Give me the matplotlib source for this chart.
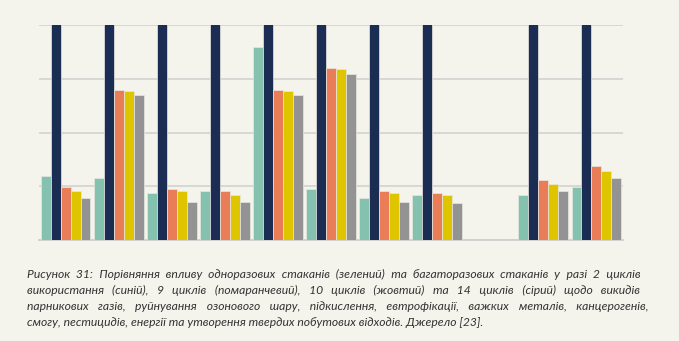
import numpy as np
import matplotlib.pyplot as plt

# значення (шкала 0..4, синій виходить за межі)
groups = np.arange(11)
single_use = [1.19, 1.15, 0.87, 0.91, 3.59, 0.95, 0.79, 0.83, np.nan, 0.83, 0.99]
reuse_2 = [5, 5, 5, 5, 5, 5, 5, 5, np.nan, 5, 5]
reuse_9 = [0.99, 2.80, 0.95, 0.91, 2.80, 3.20, 0.91, 0.87, np.nan, 1.11, 1.37]
reuse_10 = [0.91, 2.77, 0.91, 0.83, 2.77, 3.18, 0.87, 0.83, np.nan, 1.04, 1.29]
reuse_14 = [0.79, 2.69, 0.71, 0.71, 2.69, 3.08, 0.71, 0.68, np.nan, 0.91, 1.15]

series = [single_use, reuse_2, reuse_9, reuse_10, reuse_14]
colors = ['#84C1AE', '#1C2D54', '#E97D57', '#DFC400', '#939393']

caption_lines = [
    "Рисунок 31: Порівняння впливу одноразових стаканів (зелений) та багаторазових стаканів у разі 2 циклів",
    "використання (синій), 9 циклів (помаранчевий), 10 циклів (жовтий) та 14 циклів (сірий) щодо викидів",
    "парникових газів, руйнування озонового шару, підкислення, евтрофікації, важких металів, канцерогенів,",
    "смогу, пестицидів, енергії та утворення твердих побутових відходів. Джерело [23].",
]

bg = '#F4F3EC'
fig = plt.figure(figsize=(6.79, 3.41), dpi=100, facecolor=bg)
ax = fig.add_axes([39 / 679, 1 - 240 / 341, 584 / 679, 215 / 341])
ax.set_facecolor(bg)

w = 0.188
for i, (vals, c) in enumerate(zip(series, colors)):
    x = groups + (i - 2) * w
    ax.bar(x, vals, width=w, color=c, edgecolor='#E8E8E2', linewidth=0.5, zorder=3)

ax.set_xlim(-0.5, 10.5)
ax.set_ylim(0, 4)
ax.set_yticks([0, 1, 2, 3, 4])
ax.grid(axis='y', color='#CFCFCF', linewidth=1.1, zorder=0)
ax.tick_params(left=False, bottom=False, labelleft=False, labelbottom=False)
ax.set_xticks([])
for s in ['top', 'right', 'left']:
    ax.spines[s].set_visible(False)
ax.spines['bottom'].set_color('#CFCFCF')
ax.spines['bottom'].set_linewidth(1.3)

# підпис, вирівняний по ширині (додаткові пробіли + тонкі пробіли)
fs = 8.75
fam = ['Lato', 'DejaVu Sans']
x0 = 26.7
right_edges = [640, 640, 648, None]
ys = [278.3, 294.1, 309.9, 325.7]
renderer = fig.canvas.get_renderer()


def text_w(s):
    t = fig.text(0, 0, s, fontsize=fs, family=fam, style='italic')
    wd = t.get_window_extent(renderer).width
    t.remove()
    return wd


SP = ' '
HS = '\u200a'
sp_w = (text_w('a' + SP * 20 + 'a') - text_w('aa')) / 20
hs_w = (text_w('a' + HS * 20 + 'a') - text_w('aa')) / 20

for k, line in enumerate(caption_lines):
    y = 1 - ys[k] / 341
    s = line
    if right_edges[k] is not None:
        words = line.split(' ')
        extra = right_edges[k] - x0 - text_w(line)
        per_gap = extra / (len(words) - 1)
        s = words[0]
        done = 0.0
        for i, wd in enumerate(words[1:]):
            need = (i + 1) * per_gap - done
            n_sp = max(int(need // sp_w), 0)
            rest = need - n_sp * sp_w
            n_hs = max(int(round(rest / hs_w)), 0)
            done += n_sp * sp_w + n_hs * hs_w
            s += SP + SP * n_sp + HS * n_hs + wd
    fig.text(x0 / 679, y, s, fontsize=fs, family=fam, style='italic',
             color='#333333', va='baseline', ha='left')

fig.savefig('out.png', dpi=100, facecolor=bg)
